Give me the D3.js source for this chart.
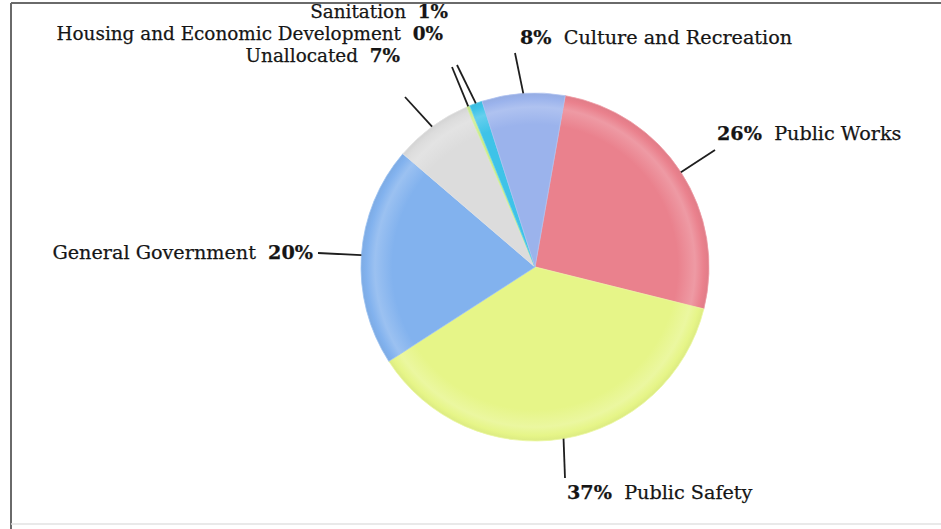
<!DOCTYPE html>
<html>
<head>
<meta charset="utf-8">
<script src="https://cdn.jsdelivr.net/npm/d3@7/dist/d3.min.js"></script>
<style>
  html, body { margin: 0; padding: 0; background: #fff; }
  svg { display: block; }
  text { font-family: "DejaVu Serif", "Liberation Serif", serif; fill: #151515; stroke: #151515; stroke-width: 0.25px; }
</style>
</head>
<body>
<svg id="chart" width="941" height="529"></svg>
<script>
// Expenditure shares by function (percent), clockwise from the top
const categories = [
  "Public Works",
  "Public Safety",
  "General Government",
  "Unallocated",
  "Housing and Economic Development",
  "Sanitation",
  "Culture and Recreation"
];
const shares = [26.1, 37.0, 20.4, 7.3, 0.3, 1.2, 7.7];
const shareLabels = ["26%", "37%", "20%", "7%", "0%", "1%", "8%"];
const colors = ["#ea818d", "#e6f588", "#82b2ee", "#dcdcdc", "#c9eb8c", "#3ec3e8", "#9bb3ec"];

// Label layout: where each leader line ends, where its text sits,
// its font size, and whether the percentage comes before the name.
const labelLayout = [
  { end: [715, 150], text: [717, 140], size: 19.2, anchor: "start", pctFirst: true },
  { end: [565, 478], text: [567, 499], size: 19.2, anchor: "start", pctFirst: true },
  { end: [318, 253], text: [313, 259], size: 19.2, anchor: "end",   pctFirst: false },
  { end: [405, 97],  text: [400, 62],  size: 18.4, anchor: "end",   pctFirst: false },
  { end: [452, 67],  text: [443, 40],  size: 18.4, anchor: "end",   pctFirst: false },
  { end: [457, 65],  text: [448, 18],  size: 18.4, anchor: "end",   pctFirst: false },
  { end: [515, 53],  text: [520, 44],  size: 19.2, anchor: "start", pctFirst: true }
];

const svg = d3.select("#chart");
const cx = 535, cy = 267, radius = 174;
const startAngle = 10 * Math.PI / 180;

// Frame: dark top and left edges, faint bottom edge
svg.append("line").attr("x1", 11).attr("y1", 3).attr("x2", 941).attr("y2", 3)
  .attr("stroke", "#6a6a6a").attr("stroke-width", 2);
svg.append("line").attr("x1", 11).attr("y1", 3).attr("x2", 11).attr("y2", 529)
  .attr("stroke", "#6a6a6a").attr("stroke-width", 2);
svg.append("line").attr("x1", 11).attr("y1", 524).attr("x2", 941).attr("y2", 524)
  .attr("stroke", "#e2e2e2").attr("stroke-width", 1.5);

const pie = d3.pie()
  .value(d => d)
  .sort(null)
  .startAngle(startAngle)
  .endAngle(startAngle + 2 * Math.PI);
const arcs = pie(shares);

const arc = d3.arc().innerRadius(0).outerRadius(radius);

// One radial gradient per slice for the soft bevelled rim
const defs = svg.append("defs");
colors.forEach((c, i) => {
  const light = d3.interpolateRgb(c, "#ffffff")(0.2);
  const dark = d3.color(c).darker(0.12);
  const g = defs.append("radialGradient")
    .attr("id", "grad" + i)
    .attr("gradientUnits", "userSpaceOnUse")
    .attr("cx", 0).attr("cy", 0).attr("r", radius);
  g.append("stop").attr("offset", "0").attr("stop-color", c);
  g.append("stop").attr("offset", "0.82").attr("stop-color", c);
  g.append("stop").attr("offset", "0.92").attr("stop-color", light);
  g.append("stop").attr("offset", "0.97").attr("stop-color", c);
  g.append("stop").attr("offset", "1").attr("stop-color", dark);
});

const pieG = svg.append("g").attr("transform", `translate(${cx},${cy})`);
pieG.selectAll("path.slice")
  .data(arcs)
  .join("path")
  .attr("class", "slice")
  .attr("d", arc)
  .attr("fill", (d, i) => `url(#grad${i})`)
  .attr("stroke", (d, i) => d3.interpolateRgb(colors[i], "#ffffff")(0.2))
  .attr("stroke-width", 0.8);

// Leader lines from the rim at each slice's middle angle
const edgePoint = d => {
  const a = (d.startAngle + d.endAngle) / 2;
  return [cx + radius * Math.sin(a), cy - radius * Math.cos(a)];
};
svg.selectAll("line.leader")
  .data(arcs)
  .join("line")
  .attr("class", "leader")
  .attr("x1", d => edgePoint(d)[0])
  .attr("y1", d => edgePoint(d)[1])
  .attr("x2", (d, i) => labelLayout[i].end[0])
  .attr("y2", (d, i) => labelLayout[i].end[1])
  .attr("stroke", "#1e1e1e")
  .attr("stroke-width", 1.8);

// Labels: bold percentage plus the category name
const labels = svg.selectAll("text.lbl")
  .data(categories)
  .join("text")
  .attr("class", "lbl")
  .attr("x", (d, i) => labelLayout[i].text[0])
  .attr("y", (d, i) => labelLayout[i].text[1])
  .attr("text-anchor", (d, i) => labelLayout[i].anchor)
  .style("font-size", (d, i) => labelLayout[i].size + "px")
  .style("white-space", "pre")
  .attr("xml:space", "preserve");

labels.each(function(name, i) {
  const t = d3.select(this);
  const pct = shareLabels[i];
  if (labelLayout[i].pctFirst) {
    t.append("tspan").attr("font-weight", "bold").text(pct);
    t.append("tspan").text("  " + name);
  } else {
    t.append("tspan").text(name + "  ");
    t.append("tspan").attr("font-weight", "bold").text(pct);
  }
});
</script>
</body>
</html>
